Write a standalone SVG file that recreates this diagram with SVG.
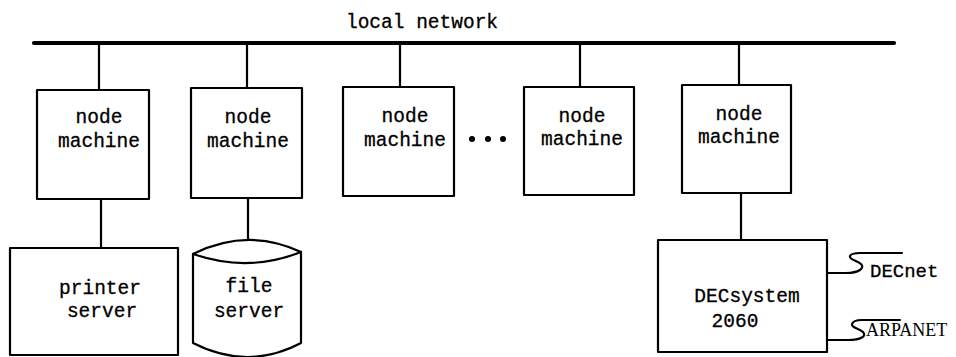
<svg xmlns="http://www.w3.org/2000/svg" width="956" height="357" viewBox="0 0 956 357">
  <style>
    .box { fill: #fff; stroke: #000; stroke-width: 2.2; stroke-linejoin: round; }
    .wire { fill: none; stroke: #000; stroke-width: 2.2; stroke-linecap: round; stroke-linejoin: round; }
    .bus { fill: none; stroke: #000; stroke-width: 4.2; stroke-linecap: round; }
    .lbl { font-family: "Liberation Mono", "Courier New", monospace; font-size: 19.5px; fill: #000; text-anchor: middle; stroke: #000; stroke-width: 0.3; }
    .lbl-l { font-family: "Liberation Mono", "Courier New", monospace; font-size: 19px; fill: #000; stroke: #000; stroke-width: 0.3; }
    .ext { font-family: "Liberation Serif", "Times New Roman", serif; font-size: 18px; fill: #000; }
  </style>

  <rect width="956" height="357" fill="#fff"/>

  <!-- network bus and title -->
  <g id="network">
    <line class="bus" x1="34" y1="43" x2="894" y2="43"/>
    <text class="lbl" x="422" y="28">local network</text>
  </g>

  <!-- connectors -->
  <g id="connectors">
    <line class="wire" x1="99" y1="44" x2="99" y2="90"/>
    <line class="wire" x1="247" y1="44" x2="247" y2="88"/>
    <line class="wire" x1="400" y1="44" x2="400" y2="87"/>
    <line class="wire" x1="580" y1="44" x2="580" y2="87"/>
    <line class="wire" x1="739" y1="44" x2="739" y2="85"/>
    <line class="wire" x1="101" y1="199" x2="101" y2="248"/>
    <line class="wire" x1="248" y1="198" x2="248" y2="240"/>
    <line class="wire" x1="741" y1="193" x2="741" y2="240"/>
    <path class="wire" d="M827,273 L846,273 C859,273 865,268 861,264 C857,260 849,260 850,256 C851,254 855,253 860,253 L902,253"/>
    <path class="wire" d="M827,340 L848,340 C861,340 867,336 863,332 C859,328 851,328 852,324 C853,321 857,320 862,320 L900,320"/>
  </g>

  <!-- node machines -->
  <g id="node1">
    <rect class="box" x="37" y="90" width="112" height="109"/>
    <text class="lbl" x="99" y="123">node</text>
    <text class="lbl" x="99" y="147">machine</text>
  </g>
  <g id="node2">
    <rect class="box" x="191" y="88" width="111" height="110"/>
    <text class="lbl" x="248" y="123">node</text>
    <text class="lbl" x="248" y="147">machine</text>
  </g>
  <g id="node3">
    <rect class="box" x="343" y="87" width="111" height="109"/>
    <text class="lbl" x="405" y="122">node</text>
    <text class="lbl" x="405" y="146">machine</text>
  </g>
  <g id="ellipsis">
    <circle cx="472" cy="139" r="3"/>
    <circle cx="488" cy="139" r="3"/>
    <circle cx="503" cy="139" r="3"/>
  </g>
  <g id="node4">
    <rect class="box" x="524" y="87" width="110" height="108"/>
    <text class="lbl" x="582" y="122">node</text>
    <text class="lbl" x="582" y="145">machine</text>
  </g>
  <g id="node5">
    <rect class="box" x="682" y="85" width="109" height="108"/>
    <text class="lbl" x="739" y="120">node</text>
    <text class="lbl" x="739" y="143">machine</text>
  </g>

  <!-- servers -->
  <g id="printer-server">
    <rect class="box" x="10" y="248" width="168" height="107"/>
    <text class="lbl" x="100" y="294">printer</text>
    <text class="lbl" x="102" y="317">server</text>
  </g>
  <g id="file-server">
    <path class="box" d="M193,254 Q248,227 301,252 L301,343 Q248,371 193,343 Z"/>
    <path class="wire" d="M193,254 Q248,273 301,252"/>
    <text class="lbl" x="249" y="292">file</text>
    <text class="lbl" x="249" y="317">server</text>
  </g>
  <g id="decsystem">
    <rect class="box" x="658" y="240" width="169" height="112"/>
    <text class="lbl" x="747" y="302">DECsystem</text>
    <text class="lbl" x="735" y="327">2060</text>
  </g>

  <!-- external networks -->
  <g id="decnet">
    <text class="lbl-l" x="870" y="277">DECnet</text>
  </g>
  <g id="arpanet">
    <text class="ext" x="866" y="336">ARPANET</text>
  </g>
</svg>
